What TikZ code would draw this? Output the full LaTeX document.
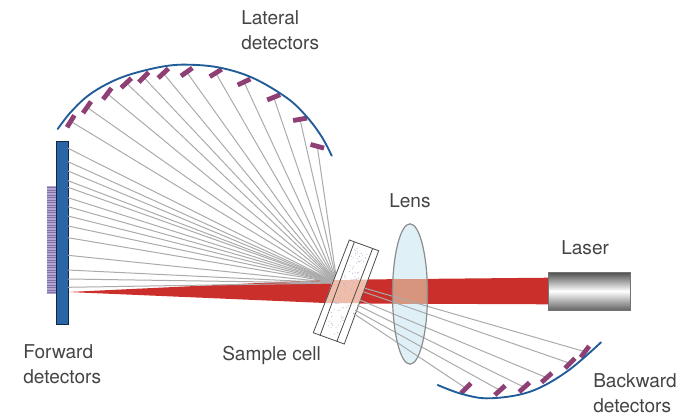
\documentclass[tikz,border=0pt]{standalone}
\usepackage{fontspec}
\setmainfont{TeX Gyre Heros}
\usetikzlibrary{calc}
\definecolor{beamred}{HTML}{CB2F2B}
\definecolor{arcblue}{HTML}{1F5C98}
\definecolor{detblue}{HTML}{2A66A6}
\definecolor{detplum}{HTML}{8E3F74}
\definecolor{stripfill}{HTML}{B3A5CF}
\definecolor{stripline}{HTML}{7F70A8}
\definecolor{lensblue}{HTML}{DFF0F6}
\definecolor{lensbeam}{HTML}{D6957C}
\definecolor{cellbeam}{HTML}{F1BDAB}
\definecolor{raygray}{HTML}{ABABAB}
\definecolor{labelgray}{HTML}{444444}
\tikzset{
  ray/.style={draw=raygray,line width=0.75pt},
  arcline/.style={draw=arcblue,line width=1.4pt,line cap=round},
  plum/.style={draw=detplum,line width=3.6pt},
  lbl/.style={anchor=west,align=left,text=labelgray,inner sep=0pt,font=\fontsize{14.3}{18.3}\selectfont},
  cellline/.style={draw=black!70,line width=0.6pt}
}
\begin{document}
\begin{tikzpicture}[x=0.75pt,y=-0.75pt]
\useasboundingbox (0,0) rectangle (698,417);
\coordinate (O) at (337,283);
% beam
\fill[beamred] (68,292) -- (333,279.5) -- (325,303) -- cycle;
\fill[beamred] (360,279.5) -- (548.7,277.7) -- (548.7,304.3) -- (360,303.5) -- cycle;
% detector arrays
\fill[stripfill] (46.7,186) rectangle (56,294);
\foreach \k in {0,...,42}{\draw[stripline,line width=0.4pt] (46.7,{187.5+\k*2.5}) -- (56,{187.5+\k*2.5});}
\draw[draw=black!60!detblue,fill=detblue,line width=0.6pt] (56,141) rectangle (68,324);
% forward rays
\foreach \y in {148.3,161.7,171,180.7,187.3,197.7,206.7,216,226,237.7,255.3,270,279,287.3}{
  \coordinate (f) at (68,\y);
  \draw[ray] (f) -- (O);
}
% lateral rays and detectors
\foreach \x/\y/\a in {70.7/121.3/-58,87/107.3/-55,107.3/93.7/-53,126.3/83/-43,143.7/77.3/-45,163.3/73.3/-43,186.7/72/-35,215.7/73/-32,244/82/-25,273.7/97.3/-22,300/119.3/-10,317.3/146.3/15}{
  \coordinate (d) at (\x,\y);
  \draw[ray] (d) -- (O);
  \draw[plum] ($(d)+(\a:7)$) -- ($(d)-(\a:7)$);
}
\draw[arcline] plot[smooth,tension=0.6] coordinates {(57.7,129) (70,113) (87,96.5) (107,84) (130,74.5) (163,66.5) (188.3,64.7) (220,67.7) (253,78) (287,98) (306.7,116.7) (321.7,136.7) (331.7,155.7)};
% sample cell
\coordinate (c1) at (349.3,240);
\coordinate (c2) at (378.7,250.7);
\coordinate (c3) at (344.3,344);
\coordinate (c4) at (313.3,332.7);
\fill[white] (c1) -- (c2) -- (c3) -- (c4) -- cycle;
\fill[cellbeam] (333,280) -- (368,279.5) -- (359.5,303) -- (325,303) -- cycle;
\pgfmathsetseed{7}
\foreach \k in {1,...,90}{
  \pgfmathsetmacro{\u}{0.05+0.9*rnd}
  \pgfmathsetmacro{\v}{0.1+0.8*rnd}
  \fill[blue!25!gray!45] ($(354.3,242)!\u!(320,335.7)!\v!($(372.7,248.3)!\u!(336.7,341.7)$)$) circle (0.55);
}
\draw[cellline] (c1) -- (c2) -- (c3) -- (c4) -- cycle;
\draw[cellline] (354.3,242) -- (320,335.7);
\draw[cellline] (372.7,248.3) -- (336.7,341.7);
% lens
\fill[lensblue] (410,294) ellipse (17.5 and 70.2);
\begin{scope}
  \clip (410,294) ellipse (17.5 and 70.2);
  \fill[lensbeam] (380,278.5) rectangle (440,304.2);
\end{scope}
% backward rays and detectors
\foreach \sx/\sy/\x/\y/\a in {365/288.3/585/351.7/-53,363.3/291.7/570/363.3/-45,360/300/546.7/377.7/-42,357.3/305/524.3/387.3/-42,355/310/500/390.3/-42,353.3/313.3/466/388.3/-45}{
  \coordinate (s) at (\sx,\sy);
  \coordinate (d) at (\x,\y);
  \draw[ray] (s) -- (d);
  \draw[plum] ($(d)+(\a:7)$) -- ($(d)-(\a:7)$);
}
\draw[arcline] plot[smooth,tension=0.6] coordinates {(437.7,385) (462,394) (490,398.3) (530,391.7) (566.7,371.7) (601,342.3)};
\draw[draw=black!45,line width=0.9pt] (410,294) ellipse (17.5 and 70.2);
% laser
\shade[top color=black!70,bottom color=black!60,middle color=white,draw=black!55,line width=0.5pt] (548.7,272) rectangle (630.7,310);
% labels
\node[lbl] (lat) at (241,30) {Lateral\\detectors};
\node[lbl] (lens) at (389,201) {Lens};
\node[lbl] (las) at (561,248) {Laser};
\node[lbl] (cell) at (222,355) {Sample cell};
\node[lbl] (fwd) at (23,364) {Forward\\detectors};
\node[lbl] (bwd) at (593,393) {Backward\\detectors};
\end{tikzpicture}
\end{document}
